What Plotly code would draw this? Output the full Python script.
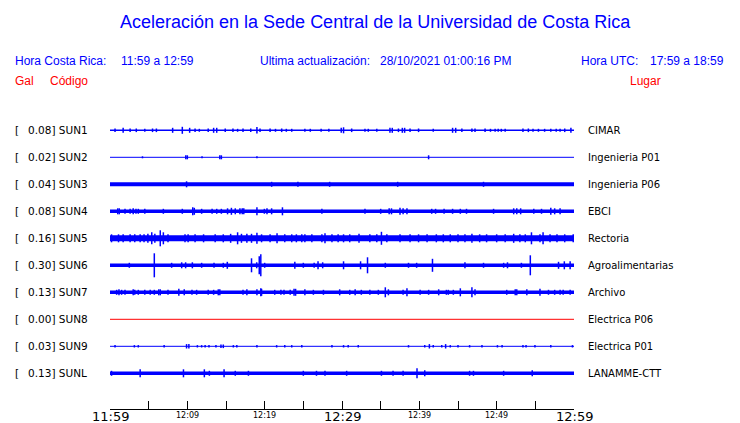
import plotly.graph_objects as go

# ---------------- data ----------------
stations = ["SUN1", "SUN2", "SUN3", "SUN4", "SUN5", "SUN6", "SUN7", "SUN8", "SUN9", "SUNL"]
peak_gal = ["0.08", "0.02", "0.04", "0.08", "0.16", "0.30", "0.13", "0.00", "0.03", "0.13"]
places = ["CIMAR", "Ingenieria P01", "Ingenieria P06", "EBCI", "Rectoria",
          "Agroalimentarias", "Archivo", "Electrica P06", "Electrica P01", "LANAMME-CTT"]
# background noise band thickness of each record (px)
noise_px = [1.5, 1, 4, 3.5, 6, 3.5, 3.5, 1, 1, 3.5]

# minutes after 11:59, half-amplitude (px)
sun1_spikes = [(0.65, 1.8), (1.7, 2.5), (2.6, 1.8), (3.4, 1.8), (4.5, 1.5), (5.5, 1.8), (6.0, 1.8), (8.1, 2.5),
               (9.35, 3.5), (10.3, 2.5), (11.0, 1.8), (11.55, 1.5), (12.7, 1.8), (13.4, 2.5), (13.8, 2.5),
               (14.9, 1.8), (15.9, 1.8), (16.5, 1.5), (17.2, 1.8), (18.2, 1.8), (19.0, 3.2), (19.4, 1.8),
               (20.7, 1.8), (21.4, 1.5), (22.2, 1.8), (22.8, 1.5), (23.5, 1.5), (25.2, 1.5), (25.9, 1.5),
               (27.3, 1.5), (28.3, 1.5), (29.9, 2.5), (30.2, 3), (31.25, 1.8), (32.97, 1.5), (33.4, 1.5),
               (34.5, 1.5), (36.2, 2.5), (36.5, 2.5), (37.3, 1.8), (37.8, 2.5), (38.1, 2.5), (38.8, 1.8),
               (39.9, 1.8), (41.8, 1.5), (44.3, 2.5), (44.7, 2.5), (45.5, 1.8), (46.8, 1.8), (47.2, 1.8),
               (48.5, 1.8), (49.2, 1.5), (49.8, 1.5), (50.2, 1.5), (50.6, 1.5), (51.1, 1.5), (53.4, 1.8),
               (54.1, 1.8), (54.7, 1.5), (55.4, 1.5), (56.2, 1.5), (57.0, 1.5), (57.7, 1.5), (58.2, 1.5),
               (58.8, 1.8), (59.6, 2.5)]
sun2_spikes = [(4.2, 1), (9.8, 2), (10.0, 2), (11.9, 1), (14.2, 2), (14.4, 2), (19.0, 1), (41.2, 2)]
sun3_spikes = [(9.9, 3), (20.9, 2.5), (24.3, 2.5), (28.4, 2.5), (37.2, 2.5), (48.3, 2.5)]
sun4_spikes = [(1.0, 3), (1.2, 3), (1.94, 2.5), (2.6, 2.5), (3.0, 3), (3.36, 2.5), (3.66, 2.5),
               (4.5, 2.5), (6.9, 2.5), (9.35, 2.5), (10.7, 4), (10.9, 3.5), (11.85, 2.5), (13.2, 2.5),
               (13.8, 2.5), (14.4, 2.5), (15.2, 3), (15.7, 3.5), (16.2, 3), (16.8, 3), (17.1, 3),
               (17.3, 3), (19.0, 4), (19.96, 2.5), (20.3, 3), (20.9, 3), (22.3, 4), (27.4, 2.5),
               (32.97, 2.5), (35.0, 2.5), (36.1, 3), (36.4, 3), (37.5, 3.5), (37.9, 3), (38.4, 3),
               (41.6, 2.5), (42.1, 2.5), (43.2, 2.5), (44.3, 2.5), (45.3, 2.5), (46.1, 2.5), (49.6, 2.5),
               (52.2, 3), (52.6, 3), (53.1, 3), (54.8, 2.5), (55.8, 2.5), (57.0, 3.5), (57.5, 3), (58.2, 3)]
sun5_spikes = [(0.2, 4), (1.1, 4), (1.7, 4), (2.6, 4), (3.2, 4), (3.9, 4), (4.4, 4), (4.9, 4.5),
               (5.4, 6), (5.8, 4.5), (6.5, 8), (6.9, 6), (7.5, 4), (9.7, 4), (10.1, 4), (11.0, 4),
               (12.1, 4), (13.6, 4), (14.65, 4), (15.6, 4.5), (16.5, 6), (17.0, 4.5), (17.7, 4.5),
               (18.3, 4.5), (19.0, 5.5), (19.6, 4), (20.7, 4), (21.6, 5), (22.6, 4), (23.5, 4),
               (24.1, 4), (24.8, 4), (25.2, 4), (26.1, 4), (27.4, 4), (27.8, 5), (28.7, 4), (29.5, 4),
               (30.2, 4), (31.0, 4), (32.2, 4.5), (33.6, 4), (34.5, 4), (35.1, 6.5), (35.8, 4),
               (37.5, 4), (38.8, 4), (39.9, 4), (41.0, 4), (42.2, 4), (43.1, 4), (44.0, 4), (45.0, 4),
               (45.9, 4), (46.8, 4.5), (47.8, 4), (48.7, 4), (50.0, 4), (51.1, 4), (52.2, 4.5),
               (53.0, 4), (53.7, 4), (54.5, 6), (55.6, 4), (56.0, 6), (56.9, 4), (57.8, 4), (58.8, 4),
               (59.9, 4)]
sun6_spikes = [(2.5, 2.5), (5.73, 12), (7.97, 2.5), (9.27, 3), (9.78, 3), (10.65, 3), (11.85, 2.5),
               (13.45, 2.5), (14.65, 2.5), (15.17, 3.5), (18.3, 7), (18.97, 3), (19.3, 9), (19.5, 11),
               (20.0, 2.5), (23.9, 3.5), (25.0, 2.5), (26.4, 2.5), (26.9, 4), (27.5, 3), (30.2, 4),
               (32.4, 4), (33.3, 8), (35.6, 2.5), (38.6, 2.5), (39.65, 2.5), (41.7, 6.5), (45.9, 3),
               (48.3, 2.5), (50.9, 2.5), (51.4, 3), (53.2, 2.5), (54.35, 10), (58.0, 3.5), (58.75, 4),
               (59.5, 4)]
sun7_spikes = [(0.86, 2.5), (1.16, 3), (1.5, 2.5), (1.94, 2.5), (3.0, 3), (3.2, 2.5), (3.66, 2.5),
               (4.5, 2.5), (5.2, 2.5), (5.73, 2.5), (6.3, 3), (6.5, 3), (7.5, 2.5), (8.9, 3.5),
               (9.6, 3), (10.6, 2.5), (11.2, 2.5), (12.7, 2.5), (13.4, 2.5), (14.0, 3), (14.2, 3),
               (17.2, 2.5), (17.7, 3), (19.0, 3), (19.5, 4), (19.6, 3.5), (21.3, 2.5), (22.1, 2.5),
               (22.5, 2.5), (23.3, 2.5), (23.8, 3.5), (24.0, 3.5), (25.2, 3), (26.3, 2.5), (27.6, 2.5),
               (29.7, 3), (31.0, 2.5), (31.7, 3), (32.5, 2.5), (33.6, 2.5), (34.7, 2.5), (35.6, 5),
               (36.0, 3), (37.9, 2.5), (38.4, 4), (40.1, 2.5), (41.2, 2.5), (42.5, 3), (43.5, 2.5),
               (43.75, 2.5), (44.4, 2.5), (45.3, 4), (46.8, 5), (47.2, 3), (51.3, 2.5), (52.4, 3),
               (52.6, 3), (53.9, 3), (55.6, 3.5), (56.7, 2.5), (57.5, 2.5), (58.2, 2.5), (58.6, 2.5),
               (59.5, 2.5)]
sun8_spikes = []
sun9_spikes = [(0.65, 1.2), (3.15, 1.2), (3.66, 1.2), (7.0, 1.2), (9.9, 2.2), (10.2, 2.2), (11.3, 1.2),
               (11.85, 1.2), (12.3, 1.2), (12.8, 1.2), (13.7, 1.2), (14.35, 1.8), (14.65, 1.8), (15.95, 1.2),
               (16.4, 1.2), (19.0, 1.2), (21.55, 1.2), (22.6, 1.2), (23.5, 1.2), (24.8, 1.2), (28.7, 1.2),
               (30.2, 1.2), (30.8, 1.2), (32.1, 1.2), (38.6, 1.2), (40.7, 1.2), (41.3, 2.2), (41.8, 1.2),
               (42.9, 1.2), (43.4, 2.2), (44.0, 1.2), (45.0, 1.2), (46.5, 1.2), (48.1, 1.2), (50.1, 1.2),
               (50.7, 1.2), (53.4, 1.2), (53.8, 1.2), (54.95, 1.2), (57.0, 1.2), (59.8, 1.2)]
sunl_spikes = [(0.2, 2.5), (3.9, 4), (9.5, 4), (12.2, 4), (12.85, 2.5), (14.75, 4), (16.2, 2.5),
               (17.9, 2.5), (25.0, 2.5), (26.7, 2.5), (27.8, 2.5), (30.6, 2.5), (35.1, 2.5), (36.6, 2.5),
               (37.9, 2.5), (39.7, 5), (40.7, 3), (46.5, 2.5), (47.0, 2.5), (50.9, 2.5), (54.6, 3)]
all_spikes = [sun1_spikes, sun2_spikes, sun3_spikes, sun4_spikes, sun5_spikes,
              sun6_spikes, sun7_spikes, sun8_spikes, sun9_spikes, sunl_spikes]

tick_minutes = [0, 10, 20, 30, 40, 50, 60]
tick_labels = ["11:59", "12:09", "12:19", "12:29", "12:39", "12:49", "12:59"]
tick_major = [True, False, False, True, False, False, True]

# ---------------- styling / layout ----------------
W, H = 740, 423
ML, MR, MT, MB = 110, 166, 100, 14
PW, PH = W - ML - MR, H - MT - MB
ROW_PX = 27.0           # pixels between records
FIRST_ROW_PX = 130.3    # vertical pixel of the first record
PAD = 2                 # annotation inner padding compensation
BLUE = "#0000FF"
RED = "#FF0000"
colors = [RED if s == "SUN8" else BLUE for s in stations]

def px_x(px):
    return (px - ML) / PW

def px_y(py):
    return 1 - (py - MT) / PH

fig = go.Figure()
for i, (st, spikes) in enumerate(zip(stations, all_spikes)):
    fig.add_trace(go.Scatter(x=[0, 60], y=[i, i], mode="lines",
                             line=dict(color=colors[i], width=noise_px[i]),
                             hoverinfo="skip", showlegend=False))
    if spikes:
        xs, ys = [], []
        for t, a in spikes:
            xs += [t, t, None]
            ys += [i - a / ROW_PX, i + a / ROW_PX, None]
        fig.add_trace(go.Scatter(x=xs, y=ys, mode="lines",
                                 line=dict(color=colors[i], width=1.5),
                                 hoverinfo="skip", showlegend=False))

ann = []
HF = "Liberation Sans, Arial, sans-serif"
DF = "DejaVu Sans, sans-serif"

def text(px, py, s, size, color, font=HF, anchor="left"):
    ann.append(dict(x=px_x(px - (PAD if anchor == "left" else 0)), y=px_y(py),
                    xref="paper", yref="paper", text=s,
                    showarrow=False, xanchor=anchor, yanchor="middle",
                    font=dict(family=font, size=size, color=color)))

text(375.5, 22, "Aceleración en la Sede Central de la Universidad de Costa Rica", 18, BLUE, anchor="center")
text(15, 61, "Hora Costa Rica:", 12, BLUE)
text(121, 61, "11:59 a 12:59", 12, BLUE)
text(260, 61, "Ultima actualización:", 12, BLUE)
text(380, 61, "28/10/2021 01:00:16 PM", 12, BLUE)
text(581, 61, "Hora UTC:", 12, BLUE)
text(650, 61, "17:59 a 18:59", 12, BLUE)
text(15, 81, "Gal", 12, RED)
text(50, 81, "Código", 12, RED)
text(630, 81, "Lugar", 12, RED)

for i in range(len(stations)):
    for px, s, size in [(14, "[", 10.5), (27, f"{peak_gal[i]}] {stations[i]}", 10.5), (587, places[i], 10)]:
        ann.append(dict(x=px_x(px - 1.5), y=i, xref="paper", yref="y", text=s, showarrow=False,
                        xanchor="left", yanchor="middle",
                        font=dict(family=DF, size=size, color="black")))

for m, lab, major in zip(tick_minutes, tick_labels, tick_major):
    ann.append(dict(x=m, y=px_y(416 if major else 415), xref="x", yref="paper", text=lab,
                    showarrow=False, xanchor="center", yanchor="middle",
                    font=dict(family=DF, size=13 if major else 8, color="black")))

y_top = -(FIRST_ROW_PX - MT) / ROW_PX
y_bot = y_top + PH / ROW_PX

fig.update_layout(
    width=W, height=H, margin=dict(l=ML, r=MR, t=MT, b=MB, pad=0),
    paper_bgcolor="white", plot_bgcolor="white", showlegend=False,
    annotations=ann,
    xaxis=dict(range=[0, 60], showgrid=False, zeroline=False, showline=True,
               linecolor="black", linewidth=1, ticks="inside", ticklen=8,
               tickcolor="black", tickwidth=1, tick0=0, dtick=5,
               showticklabels=False, fixedrange=True),
    yaxis=dict(range=[y_bot, y_top], visible=False, fixedrange=True),
)

fig.write_html("out.html", config={"displayModeBar": False},
               post_script="document.body.style.margin='0';document.body.style.overflow='hidden';")
